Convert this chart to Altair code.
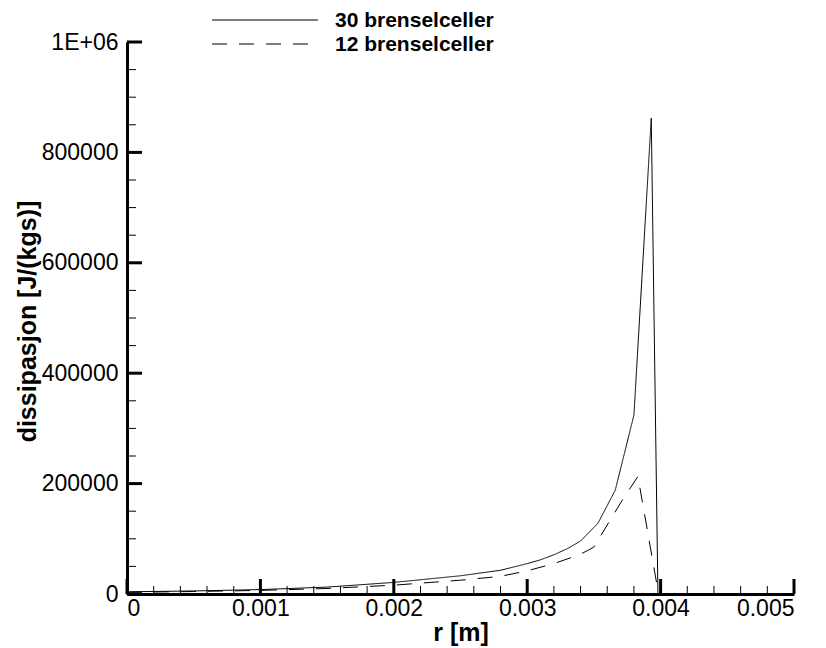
import altair as alt
import pandas as pd

# ---- data ----
r30 = [0.0, 0.0005, 0.001, 0.0015, 0.002, 0.0025, 0.0028, 0.003, 0.0031, 0.0032,
       0.0033, 0.0034, 0.00353, 0.00366, 0.0038, 0.00393, 0.00398]
d30 = [4000, 5500, 8000, 12500, 21000, 33000, 43000, 55000, 62000, 71000,
       82000, 96000, 128000, 188000, 324000, 862000, 0]

r12 = [0.0, 0.0005, 0.001, 0.0015, 0.002, 0.0025, 0.0028, 0.003, 0.0032, 0.0034,
       0.0035, 0.0036, 0.0037, 0.00383, 0.00397]
d12 = [3000, 4500, 6500, 10000, 16000, 25000, 32000, 42000, 55000, 72000,
       85000, 125000, 165000, 213000, 20000]

series = ["30 brenselceller", "12 brenselceller"]

x_major = [0.0, 0.001, 0.002, 0.003, 0.004, 0.005]
x_minor = [0.0002, 0.0004, 0.0006, 0.0008, 0.0012, 0.0014, 0.0016, 0.0018,
           0.0022, 0.0024, 0.0026, 0.0028, 0.0032, 0.0034, 0.0036, 0.0038,
           0.0042, 0.0044, 0.0046, 0.0048]
y_major = [0, 200000, 400000, 600000, 800000, 1000000]
y_minor = [50000, 100000, 150000, 250000, 300000, 350000, 450000, 500000, 550000,
           650000, 700000, 750000, 850000, 900000, 950000]

# ---- tables ----
df = pd.concat([
    pd.DataFrame({"r": r30, "d": d30, "s": series[0], "o": range(len(r30))}),
    pd.DataFrame({"r": r12, "d": d12, "s": series[1], "o": range(len(r12))}),
])

W, H = 667, 552
FONT = "Liberation Sans"
DASH = [15, 12]

xscale = alt.Scale(domain=[0, 0.005], nice=False, zero=False)
yscale = alt.Scale(domain=[0, 1000000], nice=False)

lines = alt.Chart(df).mark_line(color="black", strokeWidth=1).encode(
    x=alt.X("r:Q", scale=xscale,
            axis=alt.Axis(title="r [m]", values=x_major, ticks=False,
                          labelExpr="datum.value == 0 ? '0' : format(datum.value, '.3f')",
                          labelFontSize=23, labelPadding=3, labelColor="black",
                          titleFontSize=25, titleFontWeight="bold",
                          titleX=W / 2, titleY=38, titleBaseline="middle",
                          titleAlign="center", titleColor="black",
                          domainColor="black", domainWidth=3, grid=False)),
    y=alt.Y("d:Q", scale=yscale,
            axis=alt.Axis(title="dissipasjon [J/(kgs)]", values=y_major, ticks=False,
                          labelExpr="datum.value == 1000000 ? '1E+06' : format(datum.value, 'd')",
                          labelFontSize=23, labelPadding=9, labelColor="black",
                          titleFontSize=25, titleFontWeight="bold",
                          titleX=-100, titleY=H / 2 + 3, titleAngle=-90,
                          titleBaseline="middle", titleAlign="center",
                          titleColor="black",
                          domainColor="black", domainWidth=3, grid=False)),
    strokeDash=alt.StrokeDash("s:N",
        scale=alt.Scale(domain=series, range=[[1, 0], DASH]), legend=None),
    order="o:Q",
)

ymaj = alt.Chart(pd.DataFrame({"v": y_major})).mark_rule(color="black", strokeWidth=3).encode(
    y=alt.Y("v:Q", scale=yscale), x=alt.value(0), x2=alt.value(15))
ymin = alt.Chart(pd.DataFrame({"v": y_minor})).mark_rule(color="black", strokeWidth=1).encode(
    y=alt.Y("v:Q", scale=yscale), x=alt.value(0), x2=alt.value(9))
xmaj = alt.Chart(pd.DataFrame({"v": x_major})).mark_rule(color="black", strokeWidth=3).encode(
    x=alt.X("v:Q", scale=xscale), y=alt.value(H), y2=alt.value(H - 15))
xmin = alt.Chart(pd.DataFrame({"v": x_minor})).mark_rule(color="black", strokeWidth=1).encode(
    x=alt.X("v:Q", scale=xscale), y=alt.value(H), y2=alt.value(H - 8))

# ---- hand-made legend above the plot ----
leg_line1 = alt.Chart().mark_rule(color="black", strokeWidth=1).encode(
    x=alt.value(85), x2=alt.value(191), y=alt.value(-22))
leg_line2 = alt.Chart().mark_rule(color="black", strokeWidth=1, strokeDash=DASH).encode(
    x=alt.value(85), x2=alt.value(191), y=alt.value(2))
leg_text1 = alt.Chart().mark_text(text=series[0], align="left", baseline="middle",
                                  font=FONT, fontSize=21, fontWeight="bold",
                                  color="black").encode(x=alt.value(208), y=alt.value(-21))
leg_text2 = alt.Chart().mark_text(text=series[1], align="left", baseline="middle",
                                  font=FONT, fontSize=21, fontWeight="bold",
                                  color="black").encode(x=alt.value(208), y=alt.value(3))

chart = alt.layer(ymin, ymaj, xmin, xmaj, lines,
                  leg_line1, leg_line2, leg_text1, leg_text2).properties(
    width=W, height=H,
    autosize=alt.AutoSizeParams(type="none"),
    padding={"left": 127, "top": 42, "right": 32, "bottom": 54},
).configure(font=FONT, background="white").configure_view(stroke=None)

chart.save("out.html", embed_options={"renderer": "svg", "actions": False})
